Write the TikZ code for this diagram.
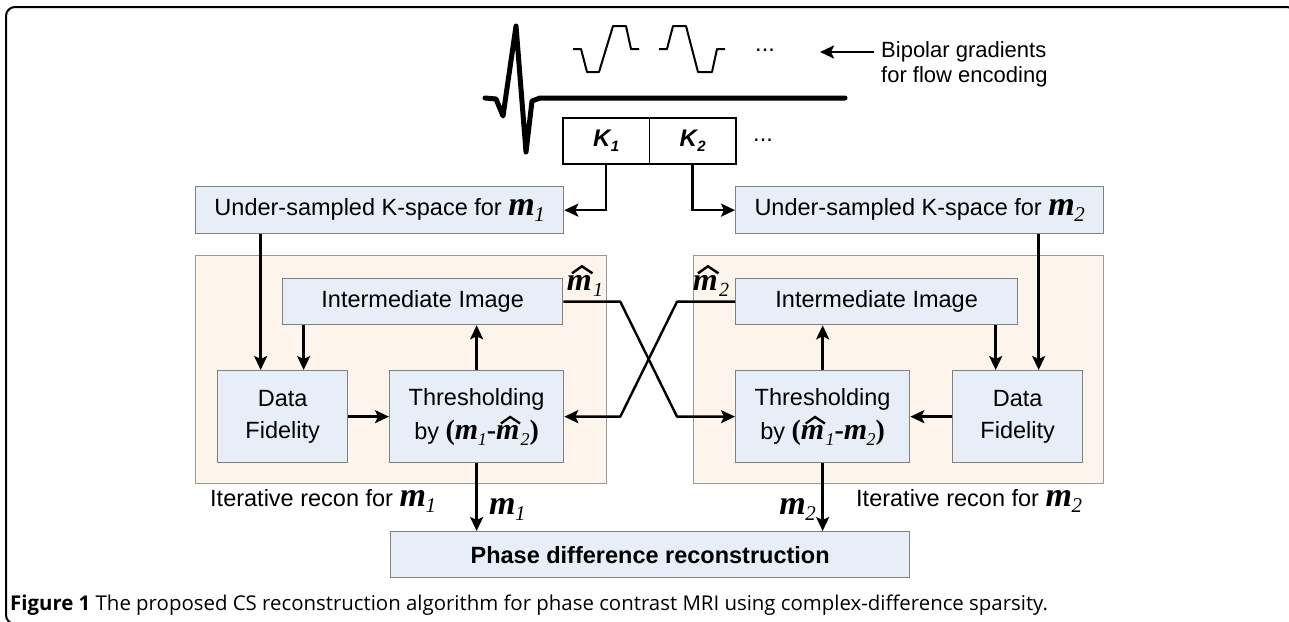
\documentclass[tikz,border=0pt]{standalone}
\usepackage{fontspec}
\setmainfont{Liberation Sans}
\newfontfamily\tms{Liberation Serif}
\newfontfamily\capfont{Open Sans}
\usetikzlibrary{arrows.meta,calc}

\newcommand\fsz[1]{\fontsize{#1}{#1}\selectfont}
% bold italic serif m with an italic subscript: size, subscript, subscript size
\newcommand\mvar[3]{{\tms\bfseries\itshape\fsz{#1}m}\kern-0.5pt\raisebox{-6pt}{\tms\itshape\fsz{#3}#2}}
% bold italic m under a wide, heavy hat
\newcommand\hatm[1]{\tikz[baseline=(hm.base), x=1pt, y=1pt]{%
  \node[shape=rectangle, inner sep=0pt, outer sep=0pt, minimum width=0pt, minimum height=0pt,
        draw=none, fill=none, anchor=center, font=\tms\bfseries\itshape\fsz{#1}] (hm) {m};
  \draw[draw=black, line width={0.075*#1}, line join=miter, line cap=butt]
    ($(hm.north west)+({0.16*#1},{0.05*#1})$) -- ($(hm.north west)+({0.47*#1},{0.27*#1})$)
    -- ($(hm.north west)+({0.80*#1},{0.05*#1})$);}}
\newcommand\mhat[3]{\hatm{#1}\kern-0.5pt\raisebox{-6pt}{\tms\itshape\fsz{#3}#2}}
% bold italic K with subscript
\newcommand\kvar[1]{{\bfseries\itshape K}\kern0.5pt\raisebox{-5pt}{\bfseries\itshape\fsz{15}#1}}

\definecolor{boxfill}{HTML}{E8EEF8}
\definecolor{boxline}{HTML}{808080}
\definecolor{loopfill}{HTML}{FDF5EC}
\definecolor{loopline}{HTML}{999999}

\tikzset{
  blk/.style={draw=boxline, line width=1.3pt, fill=boxfill, anchor=north west,
    inner sep=0pt, font=\fontsize{23.5}{32}\selectfont, align=center},
  loopbox/.style={draw=loopline, line width=1.3pt, fill=loopfill, anchor=north west, inner sep=0pt},
  kcell/.style={draw=black, line width=1.8pt, fill=white, anchor=north west,
    inner sep=0pt, minimum width=86.5pt, minimum height=46pt, font=\fontsize{24}{24}\selectfont},
  arr/.style={line width=2.4pt, -{Stealth[length=14pt,width=13pt,inset=3pt]}},
  grad/.style={line width=2pt, line join=round},
  lbl/.style={inner sep=0pt, font=\fontsize{23.5}{23.5}\selectfont},
}

\begin{document}
\begin{tikzpicture}[x=1pt, y=-1pt]
\useasboundingbox (0,0) rectangle (1289,621);

% page frame
\draw[line width=2pt, rounded corners=9pt] (6,7) rectangle (1296,624);

% pulse sequence: RF pulse and read-out line
\draw[line width=5pt, line join=round, line cap=round]
  (485,98) -- (496,99) -- (503,116) -- (516,26) -- (526,152) -- (532,101) -- (540,98) -- (845,98);
% bipolar gradients
\draw[grad] (573,49) -- (581,49) -- (587,72) -- (599,72) -- (613,26) -- (626,26) -- (631,49) -- (639,49);
\draw[grad] (659,49) -- (667,49) -- (673,26) -- (686,26) -- (698,72) -- (712,72) -- (717,49) -- (725,49);
\node[lbl] (gdots) at (765,50) {...};
\node[lbl, anchor=west, align=left, font=\fontsize{22}{25}\selectfont] (bip) at (881,64)
  {Bipolar gradients\\for flow encoding};
\coordinate (bipt) at (874,52);
\coordinate (bipe) at (820,52);
\draw[arr] (bipt) -- (bipe);

% k-space segments
\node[kcell] (k1) at (562,117) {\kvar{1}};
\node[kcell] (k2) at (648.5,117) {\kvar{2}};
\node[lbl] (kdots) at (763,140) {...};

% under-sampled k-space boxes
\node[blk, minimum width=368pt, minimum height=47pt] (us1) at (195,186)
  {Under-sampled K-space for \mvar{34}{1}{21}};
\node[blk, minimum width=368pt, minimum height=47pt] (us2) at (735,186)
  {Under-sampled K-space for \mvar{34}{2}{21}};
\draw[arr] (k1.south) -- (k1.south |- us1.east) -- (us1.east);
\draw[arr] (k2.south) -- (k2.south |- us2.west) -- (us2.west);

% iterative loops
\node[loopbox, minimum width=411pt, minimum height=228pt] (loop1) at (195,255) {};
\node[loopbox, minimum width=410pt, minimum height=228pt] (loop2) at (693,255) {};

\node[blk, minimum width=280pt, minimum height=46pt] (im1) at (282,278) {Intermediate Image};
\node[blk, minimum width=282pt, minimum height=46pt] (im2) at (735,278) {Intermediate Image};
\node[blk, minimum width=130pt, minimum height=92pt] (df1) at (217,370) {Data\\Fidelity};
\node[blk, minimum width=130pt, minimum height=92pt] (df2) at (952,370) {Data\\Fidelity};
\node[blk, minimum width=174pt, minimum height=92pt] (th1) at (389,370)
  {Thresholding\\[2pt] by {\tms\bfseries\fsz{28}(}\mvar{30}{1}{18}{\tms\bfseries\fsz{28}-}\mhat{30}{2}{18}{\tms\bfseries\fsz{28})}};
\node[blk, minimum width=174pt, minimum height=92pt] (th2) at (735,370)
  {Thresholding\\[2pt] by {\tms\bfseries\fsz{28}(}\mhat{30}{1}{18}{\tms\bfseries\fsz{28}-}\mvar{30}{2}{18}{\tms\bfseries\fsz{28})}};

\node[blk, minimum width=519pt, minimum height=46pt, font=\bfseries\fontsize{23.5}{23.5}\selectfont]
  (ph) at (390,531) {Phase difference reconstruction};

% loop connectors
\draw[arr] ([xshift=-22pt]df1.north |- us1.south) -- ([xshift=-22pt]df1.north);
\draw[arr] ([xshift=21pt]df1.north |- im1.south) -- ([xshift=21pt]df1.north);
\draw[arr] (df1.east) -- (th1.west);
\draw[arr] (th1.north) -- (th1.north |- im1.south);

\draw[arr] ([xshift=21pt]df2.north |- us2.south) -- ([xshift=21pt]df2.north);
\draw[arr] ([xshift=-22pt]df2.north |- im2.south) -- ([xshift=-22pt]df2.north);
\draw[arr] (df2.west) -- (th2.east);
\draw[arr] (th2.north) -- (th2.north |- im2.south);

% exchange of intermediate estimates
\draw[arr, line join=round] (im1.east) -- ([xshift=57pt]im1.east) -- ([xshift=-58pt]th2.west) -- (th2.west);
\draw[arr, line join=round] (im2.west) -- ([xshift=-58pt]im2.west) -- ([xshift=56pt]th1.east) -- (th1.east);
\node[lbl, anchor=base] (mh1) at (585,290) {\mhat{32}{1}{20}};
\node[lbl, anchor=base] (mh2) at (711,290) {\mhat{32}{2}{20}};

% outputs
\draw[arr] (th1.south) -- (th1.south |- ph.north);
\draw[arr] (th2.south) -- (th2.south |- ph.north);
\node[lbl, anchor=base west] (o1) at (489,514) {\mvar{34}{1}{21}};
\node[lbl, anchor=base east] (o2) at (816,514) {\mvar{34}{2}{21}};

\node[lbl, anchor=base west] (it1) at (210,506) {Iterative recon for \mvar{34}{1}{21}};
\node[lbl, anchor=base west] (it2) at (856,506) {Iterative recon for \mvar{34}{2}{21}};

% caption
\node[inner sep=0pt, anchor=base west, font=\capfont\fontsize{20.4}{20.4}\selectfont] (cap) at (10,610)
  {\textbf{Figure 1} The proposed CS reconstruction algorithm for phase contrast MRI using complex-difference sparsity.};
\end{tikzpicture}
\end{document}
